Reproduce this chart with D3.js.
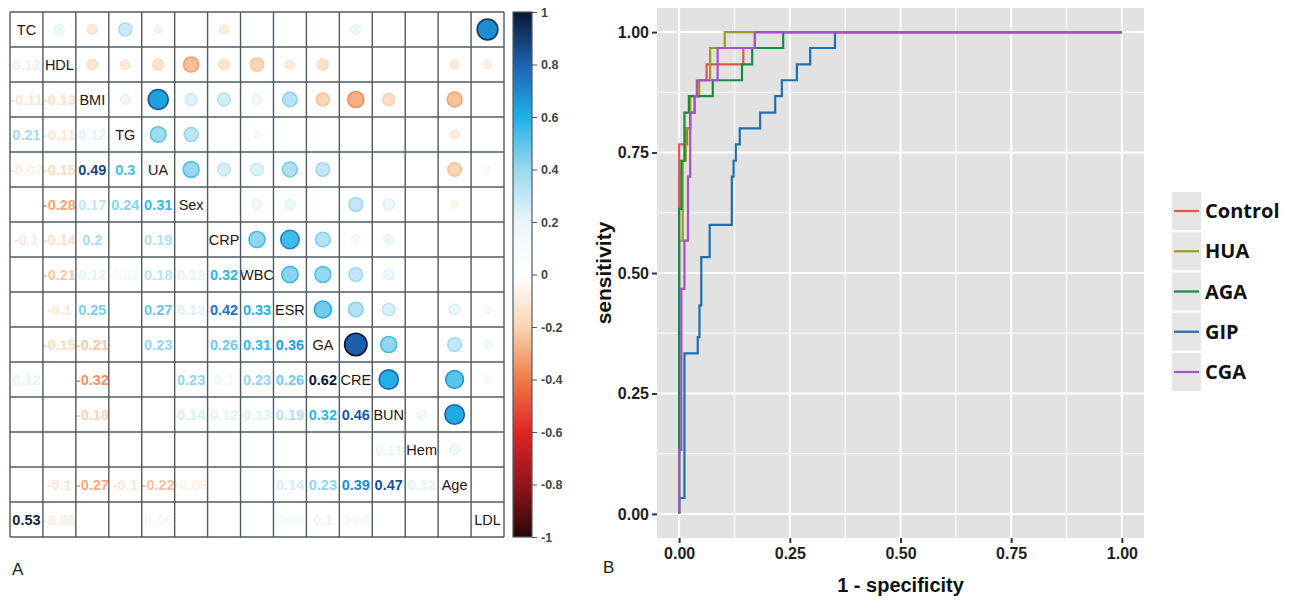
<!DOCTYPE html>
<html><head><meta charset="utf-8">
<script src="https://cdn.jsdelivr.net/npm/d3@7"></script>
<style>
body{margin:0;background:#fff;}
svg{display:block;}
</style></head><body>
<svg id="c" width="1289" height="603"></svg>
<script>
// ---------------- Panel A data ----------------
const variables = ["TC","HDL","BMI","TG","UA","Sex","CRP","WBC","ESR","GA","CRE","BUN","Hem","Age","LDL"];
// lower triangle correlations (row i, columns 0..i-1); null = blank
const corrRows = [
  [],
  [0.12],
  [-0.11,-0.13],
  [0.21,-0.11,0.12],
  [-0.07,-0.15,0.49,0.3],
  [null,-0.28,0.17,0.24,0.31],
  [-0.1,-0.14,0.2,null,0.19,null],
  [null,-0.21,0.12,0.07,0.18,0.12,0.32],
  [null,-0.1,0.25,null,0.27,0.13,0.42,0.33],
  [null,-0.15,-0.21,null,0.23,null,0.26,0.31,0.36],
  [0.12,null,-0.32,null,null,0.23,0.1,0.23,0.26,0.62],
  [null,null,-0.18,null,null,0.14,0.12,0.13,0.19,0.32,0.46],
  [null,null,null,null,null,null,null,null,null,null,null,0.11],
  [null,-0.1,-0.27,-0.1,-0.22,-0.06,null,null,0.14,0.23,0.39,0.47,0.12],
  [0.53,-0.08,null,null,0.06,null,null,null,0.08,0.1,0.08,null,null,null]
];
const colorbarTicks = [1,0.8,0.6,0.4,0.2,0,-0.2,-0.4,-0.6,-0.8,-1];
const colorStops = [-1,-0.8,-0.6,-0.4,-0.2,0,0.2,0.4,0.6,0.8,1];
const colorValues = ["#2a0608","#921519","#de2425","#ef7d46","#fbd5b3","#ffffff","#e9f6fb","#9cd8f0","#1fb0e7","#1d62ae","#0b1632"];

// ---------------- Panel B data ----------------
const rocGroups = ["Control","HUA","AGA","GIP","CGA"];
const rocColors = ["#dc5a4a","#9c9c18","#178a48","#1f6eae","#a452c6"];
const fprControl = [0,0,0.018,0.018,0.025,0.025,0.035,0.035,0.045,0.045,0.062,0.062,0.145,0.145,0.171,0.171,1];
const sensControl = [0,0.767,0.767,0.8,0.8,0.833,0.833,0.867,0.867,0.9,0.9,0.933,0.933,0.967,0.967,1,1];
const fprHUA = [0,0,0.008,0.008,0.015,0.015,0.025,0.025,0.045,0.045,0.07,0.07,0.103,0.103,1];
const sensHUA = [0,0.567,0.567,0.733,0.733,0.8,0.8,0.867,0.867,0.9,0.9,0.967,0.967,1,1];
const fprAGA = [0,0,0.005,0.005,0.012,0.012,0.022,0.022,0.076,0.076,0.142,0.142,0.165,0.165,0.235,0.235,1];
const sensAGA = [0,0.633,0.633,0.733,0.733,0.833,0.833,0.867,0.867,0.9,0.9,0.933,0.933,0.967,0.967,1,1];
const fprGIP = [0,0,0.012,0.012,0.042,0.042,0.046,0.046,0.05,0.05,0.069,0.069,0.119,0.119,0.123,0.123,0.128,0.128,0.137,0.137,0.183,0.183,0.217,0.217,0.232,0.232,0.266,0.266,0.296,0.296,0.352,0.352,1];
const sensGIP = [0,0.033,0.033,0.333,0.333,0.367,0.367,0.433,0.433,0.533,0.533,0.6,0.6,0.7,0.7,0.733,0.733,0.767,0.767,0.8,0.8,0.833,0.833,0.867,0.867,0.9,0.9,0.933,0.933,0.967,0.967,1,1];
const fprCGA = [0,0,0.005,0.005,0.012,0.012,0.02,0.02,0.025,0.025,0.035,0.035,0.04,0.04,0.087,0.087,0.171,0.171,1];
const sensCGA = [0,0.133,0.133,0.467,0.467,0.567,0.567,0.7,0.7,0.833,0.833,0.867,0.867,0.9,0.9,0.967,0.967,1,1];
const rocFpr = [fprControl,fprHUA,fprAGA,fprGIP,fprCGA];
const rocSens = [sensControl,sensHUA,sensAGA,sensGIP,sensCGA];
const axisTicks = [0,0.25,0.5,0.75,1];
const minorTicks = [0.125,0.375,0.625,0.875];

// ---------------- Drawing ----------------
const svg = d3.select("#c");
svg.append("rect").attr("width",1289).attr("height",603).attr("fill","#fff");

const n = variables.length;
const xc = d3.scaleBand().domain(d3.range(n)).range([10,504]);
const yc = d3.scaleBand().domain(d3.range(n)).range([12,537]);
const bw = xc.bandwidth(), bh = yc.bandwidth();
const colorScale = d3.scaleLinear().domain(colorStops).range(colorValues).clamp(true);
const rScale = d3.scaleSqrt().domain([0,1]).range([0,14.2]);
const circleFill = v => colorScale(v > 0 ? v*1.3 : v*0.9);
const circleStroke = v => colorScale(v > 0 ? v*1.7 : v*1.15);
const textColor = v => colorScale(v > 0 ? v*1.8 : v*1.1);
const fmt = v => String(+v.toFixed(2));

const cells = [];
corrRows.forEach((row,i) => row.forEach((v,j) => { if (v !== null) cells.push({i,j,v}); }));

const gA = svg.append("g");
gA.selectAll("circle.cor").data(cells).join("circle")
  .attr("cx", d => xc(d.i) + bw/2)
  .attr("cy", d => yc(d.j) + bh/2)
  .attr("r", d => rScale(Math.abs(d.v)))
  .attr("fill", d => circleFill(d.v))
  .attr("stroke", d => circleStroke(d.v))
  .attr("stroke-width", 1.6);

gA.selectAll("text.num").data(cells).join("text")
  .attr("x", d => xc(d.j) + bw/2)
  .attr("y", d => yc(d.i) + bh/2 + 5)
  .attr("text-anchor","middle")
  .attr("font-family","'Liberation Sans',Arial,sans-serif")
  .attr("font-size",14.5).attr("font-weight","bold")
  .attr("fill", d => textColor(d.v))
  .text(d => fmt(d.v));

gA.selectAll("text.lab").data(variables).join("text")
  .attr("x", (d,i) => xc(i) + bw/2)
  .attr("y", (d,i) => yc(i) + bh/2 + 5)
  .attr("text-anchor","middle")
  .attr("font-family","'Liberation Sans',Arial,sans-serif")
  .attr("font-size",14.5)
  .attr("fill","#2b1410")
  .text(d => d);

// grid
const gridCol = "#4e5b62";
const bounds = d3.range(n+1);
gA.selectAll("line.v").data(bounds).join("line")
  .attr("x1", k => k < n ? xc(k) : xc.range()[1]).attr("x2", k => k < n ? xc(k) : xc.range()[1])
  .attr("y1", yc.range()[0]).attr("y2", yc.range()[1])
  .attr("stroke", gridCol).attr("stroke-width",1.4);
gA.selectAll("line.h").data(bounds).join("line")
  .attr("y1", k => k < n ? yc(k) : yc.range()[1]).attr("y2", k => k < n ? yc(k) : yc.range()[1])
  .attr("x1", xc.range()[0]).attr("x2", xc.range()[1])
  .attr("stroke", gridCol).attr("stroke-width",1.4);

// colorbar
const yBar = d3.scaleLinear().domain([-1,1]).range([537,12]);
const defs = svg.append("defs");
const grad = defs.append("linearGradient").attr("id","cbar").attr("x1",0).attr("x2",0).attr("y1",1).attr("y2",0);
grad.selectAll("stop").data(colorStops).join("stop")
  .attr("offset", (d) => ((d+1)/2*100) + "%")
  .attr("stop-color", (d,i) => colorValues[i]);
svg.append("rect").attr("x",513).attr("y",yBar(1)).attr("width",19).attr("height",yBar(-1)-yBar(1))
  .attr("fill","url(#cbar)").attr("stroke","#4e5b62").attr("stroke-width",1.2);
const cAxis = svg.append("g").attr("transform","translate(532,0)")
  .call(d3.axisRight(yBar).tickValues(colorbarTicks).tickSize(5).tickPadding(4).tickFormat(d => String(d)));
cAxis.select(".domain").remove();
cAxis.selectAll("line").attr("stroke","#555");
cAxis.selectAll("text").attr("font-family","'Liberation Sans',Arial,sans-serif").attr("font-size",12.5)
  .attr("font-weight","bold").attr("fill","#444");

svg.append("text").attr("x",12).attr("y",575).attr("font-family","'Liberation Sans',Arial,sans-serif")
  .attr("font-size",17).attr("fill","#222").text("A");

// ---------------- Panel B ----------------
const x = d3.scaleLinear().domain([-0.05,1.05]).range([657,1144]);
const y = d3.scaleLinear().domain([-0.05,1.05]).range([538,8]);
const gB = svg.append("g");
gB.append("rect").attr("x",x.range()[0]).attr("y",y.range()[1])
  .attr("width",x.range()[1]-x.range()[0]).attr("height",y.range()[0]-y.range()[1]).attr("fill","#e2e2e2");
gB.selectAll("line.mx").data(minorTicks).join("line")
  .attr("x1",d=>x(d)).attr("x2",d=>x(d)).attr("y1",y.range()[0]).attr("y2",y.range()[1])
  .attr("stroke","#fff").attr("stroke-width",1);
gB.selectAll("line.my").data(minorTicks).join("line")
  .attr("y1",d=>y(d)).attr("y2",d=>y(d)).attr("x1",x.range()[0]).attr("x2",x.range()[1])
  .attr("stroke","#fff").attr("stroke-width",1);
gB.selectAll("line.Mx").data(axisTicks).join("line")
  .attr("x1",d=>x(d)).attr("x2",d=>x(d)).attr("y1",y.range()[0]).attr("y2",y.range()[1])
  .attr("stroke","#fff").attr("stroke-width",2);
gB.selectAll("line.My").data(axisTicks).join("line")
  .attr("y1",d=>y(d)).attr("y2",d=>y(d)).attr("x1",x.range()[0]).attr("x2",x.range()[1])
  .attr("stroke","#fff").attr("stroke-width",2);

const line = d3.line().x(d => x(d[0])).y(d => y(d[1]));
rocGroups.forEach((gname,k) => {
  const pts = rocFpr[k].map((f,i) => [f, rocSens[k][i]]);
  gB.append("path").datum(pts).attr("d", line).attr("fill","none")
    .attr("stroke", rocColors[k]).attr("stroke-width",2.2).attr("stroke-linejoin","miter");
});

const tickFont = "'Liberation Sans',Arial,sans-serif";
const ax = gB.append("g").attr("transform",`translate(0,${y.range()[0]})`)
  .call(d3.axisBottom(x).tickValues(axisTicks).tickSize(5).tickPadding(5).tickFormat(d3.format(".2f")));
const ay = gB.append("g").attr("transform",`translate(${x.range()[0]},0)`)
  .call(d3.axisLeft(y).tickValues(axisTicks).tickSize(5).tickPadding(3).tickFormat(d3.format(".2f")));
[ax,ay].forEach(a => {
  a.select(".domain").remove();
  a.selectAll("line").attr("stroke","#333").attr("stroke-width",2);
  a.selectAll("text").attr("font-family",tickFont).attr("font-size",16).attr("font-weight","bold").attr("fill","#1e1e1e");
});

svg.append("text").attr("x",(x(0)+x(1))/2).attr("y",592).attr("text-anchor","middle")
  .attr("font-family",tickFont).attr("font-size",20).attr("font-weight","bold").attr("fill","#111")
  .text("1 - specificity");
svg.append("text").attr("transform",`translate(611,${(y(0)+y(1))/2}) rotate(-90)`).attr("text-anchor","middle")
  .attr("font-family",tickFont).attr("font-size",21).attr("font-weight","bold").attr("fill","#111")
  .text("sensitivity");
svg.append("text").attr("x",603).attr("y",573).attr("font-family","'Liberation Sans',Arial,sans-serif")
  .attr("font-size",17).attr("fill","#222").text("B");

// legend
const legY = d3.scalePoint().domain(rocGroups).range([211,372]);
const leg = svg.append("g");
leg.selectAll("rect").data(rocGroups).join("rect")
  .attr("x",1172).attr("y",d => legY(d)-19).attr("width",29).attr("height",38).attr("fill","#e6e6e6");
leg.selectAll("line").data(rocGroups).join("line")
  .attr("x1",1174).attr("x2",1199).attr("y1",d=>legY(d)).attr("y2",d=>legY(d))
  .attr("stroke",(d,i)=>rocColors[i]).attr("stroke-width",2.2);
leg.selectAll("text").data(rocGroups).join("text")
  .attr("x",1205).attr("y",d=>legY(d)+7)
  .attr("font-family","'Open Sans','Liberation Sans',sans-serif").attr("font-size",20).attr("font-weight","bold")
  .attr("fill","#111").text(d=>d);
</script>
</body></html>
